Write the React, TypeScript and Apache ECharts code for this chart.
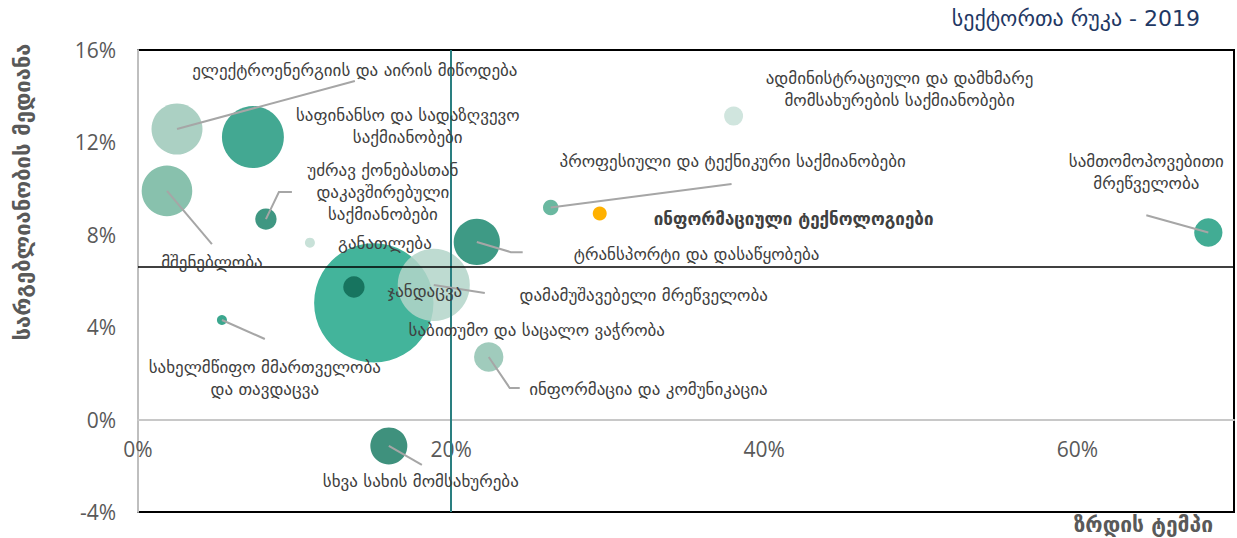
import React, { useEffect, useRef } from "react";
import * as echarts from "echarts";

// ---- data ----
const sectors: string[] = [
  "საბითუმო და საცალო ვაჭრობა",
  "დამამუშავებელი მრეწველობა",
  "საფინანსო და სადაზღვევო\nსაქმიანობები",
  "ელექტროენერგიის და აირის მიწოდება",
  "მშენებლობა",
  "ტრანსპორტი და დასაწყობება",
  "სხვა სახის მომსახურება",
  "ინფორმაცია და კომუნიკაცია",
  "სამთომოპოვებითი\nმრეწველობა",
  "უძრავ ქონებასთან\nდაკავშირებული\nსაქმიანობები",
  "ჯანდაცვა",
  "ადმინისტრაციული და დამხმარე\nმომსახურების საქმიანობები",
  "პროფესიული და ტექნიკური საქმიანობები",
  "ინფორმაციული ტექნოლოგიები",
  "განათლება",
  "სახელმწიფო მმართველობა\nდა თავდაცვა",
];
// growth rate, %
const growthRate: number[] = [15.06, 18.89, 7.34, 2.49, 1.85, 21.64, 16.02, 22.4, 68.36, 8.17, 13.79, 38.04, 26.36, 29.49, 10.98, 5.36];
// median profitability, %
const profitMedian: number[] = [5.05, 5.83, 12.23, 12.58, 9.9, 7.69, -1.14, 2.71, 8.1, 8.68, 5.74, 13.14, 9.18, 8.92, 7.66, 4.31];
// relative sector size (bubble)
const sectorSize: number[] = [35.6, 13.0, 9.6, 6.5, 6.4, 5.35, 3.42, 2.15, 2.0, 1.14, 1.14, 0.9, 0.6, 0.49, 0.25, 0.25];

const growthThreshold = 20;
const profitThreshold = 6.6;

const xTicks = { min: 0, max: 70, interval: 20 };
const yTicks = { min: -4, max: 16, interval: 4 };

// ---- styles / layout ----
const bubbleColors: string[] = [
  "#43b49b", "#b3d5c9", "#43a892", "#abd0c3", "#88c1ad", "#3e9a85", "#3f917d", "#a0cbbc",
  "#42ac94", "#3f9782", "#17745f", "#d0e5de", "#6ab8a0", "#ffb100", "#c8e1d8", "#3ba78e",
];
const bubbleOpacity: number[] = [1, 0.85, 1, 1, 1, 1, 1, 1, 1, 1, 1, 1, 1, 1, 1, 1];
const boldLabel: boolean[] = sectors.map((_, i) => i === 13);

// label anchors, in data coordinates
const labelAnchors: [number, number][] = [
  [25.47, 3.88],
  [32.3, 5.39],
  [17.23, 12.73],
  [13.85, 15.13],
  [4.72, 6.82],
  [35.68, 7.17],
  [18.06, -2.66],
  [32.6, 1.33],
  [64.4, 10.72],
  [15.64, 9.85],
  [18.32, 5.56],
  [48.64, 14.31],
  [37.98, 11.19],
  [41.87, 8.68],
  [15.77, 7.65],
  [8.1, 1.8],
];
// leader line waypoints after the bubble centre, in data coordinates
const leaderPoints: [number, number][][] = [
  [],
  [[22.15, 5.48]],
  [],
  [[13.85, 14.66]],
  [[4.72, 7.6]],
  [[23.81, 7.25], [24.57, 7.25]],
  [[18.13, -1.96]],
  [[23.74, 1.37], [24.38, 1.37]],
  [[64.4, 8.85]],
  [[9.0, 9.85], [9.83, 9.85]],
  [],
  [],
  [[37.91, 10.2]],
  [],
  [],
  [[8.1, 3.49]],
];

const GEO_FONT = "'DejaVu Sans', 'Noto Sans', sans-serif";
const NUM_FONT = "'Open Sans', 'Noto Sans', sans-serif";

const GRID = { left: 138, right: 3, top: 50, bottom: 26 };

export default function App() {
  const ref = useRef<HTMLDivElement>(null);

  useEffect(() => {
    if (!ref.current) return;
    const chart = echarts.init(ref.current, undefined, { renderer: "svg" });

    const bubbleData = sectors.map((name, i) => ({
      name,
      value: [growthRate[i], profitMedian[i], sectorSize[i]],
      symbolSize: 20 * Math.sqrt(sectorSize[i]),
      itemStyle: { color: bubbleColors[i], opacity: bubbleOpacity[i] },
    }));

    // place the x axis on y = 0
    const plotH = 538 - GRID.top - GRID.bottom;
    const zeroOffset = -plotH * (0 - yTicks.min) / (yTicks.max - yTicks.min);

    const option: any = {
      animation: false,
      grid: {
        ...GRID,
        outerBoundsMode: "none",
        containLabel: false,
        show: true,
        borderColor: "#000",
        borderWidth: 2,
        backgroundColor: "transparent",
      },
      xAxis: {
        type: "value",
        min: xTicks.min,
        max: xTicks.max,
        interval: xTicks.interval,
        offset: zeroOffset,
        axisLine: { onZero: false, lineStyle: { color: "#c8c8c8", width: 2 } },
        axisTick: { show: false },
        splitLine: { show: false },
        axisLabel: {
          margin: 19,
          fontSize: 21,
          color: "#595959",
          fontFamily: NUM_FONT,
          formatter: (v: number) => (v % xTicks.interval === 0 ? `${v}%` : ""),
        },
      },
      yAxis: {
        type: "value",
        min: yTicks.min,
        max: yTicks.max,
        interval: yTicks.interval,
        axisLine: { show: true, onZero: false, lineStyle: { color: "#bfbfbf", width: 2 } },
        axisTick: { show: false },
        splitLine: { show: false },
        axisLabel: {
          margin: 22,
          fontSize: 21,
          color: "#595959",
          fontFamily: NUM_FONT,
          formatter: "{value}%",
        },
      },
      series: [
        {
          type: "scatter",
          z: 2,
          data: bubbleData,
          symbol: "circle",
          markLine: {
            silent: true,
            symbol: "none",
            label: { show: false },
            data: [
              { xAxis: growthThreshold, lineStyle: { color: "#2a7f80", width: 2, type: "solid" } },
              { yAxis: profitThreshold, lineStyle: { color: "#000", width: 1.5, type: "solid" } },
            ],
          },
        },
        {
          type: "custom",
          z: 10,
          clip: false,
          data: labelAnchors.map((p) => [p[0], p[1]]),
          renderItem: (params: any, api: any) => {
            const i = params.dataIndex;
            const children: any[] = [];
            const pts = leaderPoints[i];
            if (pts.length) {
              const poly = [api.coord([growthRate[i], profitMedian[i]])].concat(
                pts.map((p) => api.coord(p))
              );
              children.push({
                type: "polyline",
                shape: { points: poly },
                style: { stroke: "#a6a6a6", lineWidth: 2, fill: null },
              });
            }
            const lp = api.coord(labelAnchors[i]);
            children.push({
              type: "text",
              style: {
                text: sectors[i],
                x: lp[0],
                y: lp[1],
                align: "center",
                verticalAlign: "middle",
                fill: "#404040",
                fontSize: 17,
                fontFamily: GEO_FONT,
                fontWeight: boldLabel[i] ? "bold" : "normal",
                lineHeight: 22,
              },
            });
            return { type: "group", children };
          },
        },
      ],
      graphic: [
        {
          type: "text",
          right: 37,
          top: 7,
          style: {
            text: "სექტორთა რუკა - 2019",
            fill: "#1f3864",
            fontSize: 22,
            fontFamily: GEO_FONT,
          },
        },
        {
          type: "text",
          x: 22,
          y: 192,
          rotation: Math.PI / 2,
          style: {
            text: "სარგებლიანობის მედიანა",
            fill: "#595959",
            fontSize: 22,
            fontWeight: "bold",
            fontFamily: GEO_FONT,
            align: "center",
            verticalAlign: "middle",
          },
        },
        {
          type: "text",
          right: 24,
          top: 514,
          style: {
            text: "ზრდის ტემპი",
            fill: "#595959",
            fontSize: 21,
            fontWeight: "bold",
            fontFamily: GEO_FONT,
          },
        },
      ],
    };

    chart.setOption(option);
    return () => chart.dispose();
  }, []);

  return (
    <div
      ref={ref}
      style={{ position: "absolute", left: 0, top: 0, width: 1237, height: 538 }}
    />
  );
}
